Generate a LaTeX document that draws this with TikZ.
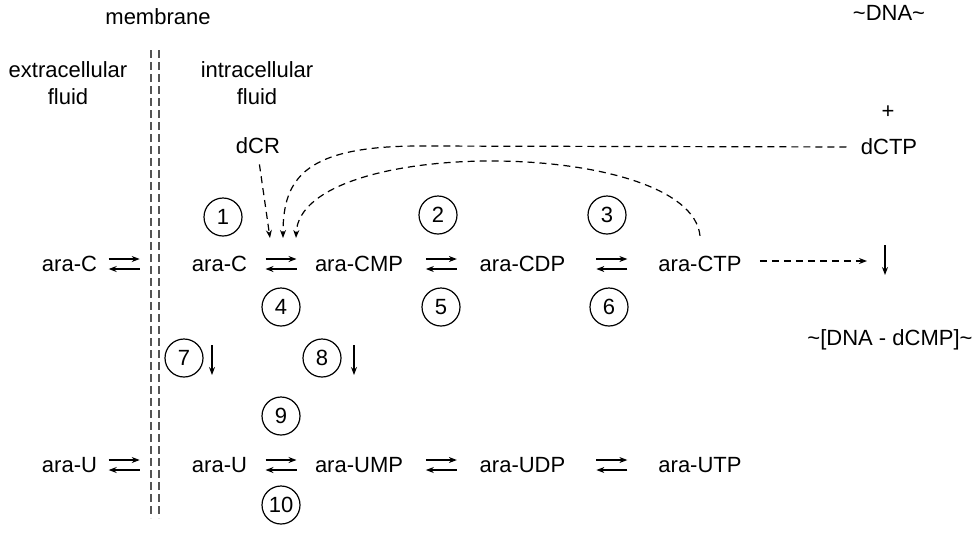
\documentclass[tikz,border=0pt]{standalone}
\usepackage{fontspec}
\setmainfont{Liberation Sans}
\usetikzlibrary{arrows.meta, calc}
\definecolor{memgray}{HTML}{555555}
\tikzset{species/.style = {inner sep=0pt}}
\tikzset{step circle/.style = {draw, circle, line width=0.6pt, minimum size=19pt, inner sep=0pt}}
\tikzset{thin arrow/.style = {-{Stealth[length=4pt, width=3pt]}, line width=0.6pt}}
\tikzset{dash line/.style = {dash pattern=on 3.5pt off 2.5pt, line width=0.6pt}}
\newcommand{\eqpair}[2]{%
	\coordinate (eqmid) at ($#1!0.5!#2$);
	\draw[thin arrow] ($(eqmid)+(-15.5,-5)$) -- ++(31,0);
	\draw[thin arrow] ($(eqmid)+(15.5,5)$) -- ++(-31,0);
}

\begin{document}
\begin{tikzpicture}[x=0.5pt, y=-0.5pt, font=\fontsize{11}{13.5}\selectfont]
	\useasboundingbox (0,0) rectangle (978,532);
	\def\rowC{264}
	\def\rowU{465}
	
	% headings
	\node (membrane) at (158,17) {membrane};
	\node (dna) at (889,13) {\textasciitilde DNA\textasciitilde};
	\node[align=center] (extra) at (68,83.5) {extracellular\\fluid};
	\node[align=center] (intra) at (257,83.5) {intracellular\\fluid};
	
	% membrane
	\foreach \mx in {151,159}
		\draw[memgray, line width=0.6pt, dash pattern=on 4pt off 2pt] (\mx,50) -- (\mx,518);
	\coordinate (memC) at (151,\rowC);
	\coordinate (memU) at (151,\rowU);
	
	% cytidine row
	\node[species] (araCout) at (69.5,\rowC) {ara-C};
	\node[species] (araC) at (219.5,\rowC) {ara-C};
	\node[species] (araCMP) at (359,\rowC) {ara-CMP};
	\node[species] (araCDP) at (522.5,\rowC) {ara-CDP};
	\node[species] (araCTP) at (700,\rowC) {ara-CTP};
	\eqpair{(araCout.east)}{(memC)}
	\eqpair{(araC.east)}{(araCMP.west)}
	\eqpair{(araCMP.east)}{(araCDP.west)}
	\eqpair{(araCDP.east)}{(araCTP.west)}
	
	% uridine row
	\node[species] (araUout) at (69.5,\rowU) {ara-U};
	\node[species] (araU) at (219.5,\rowU) {ara-U};
	\node[species] (araUMP) at (359,\rowU) {ara-UMP};
	\node[species] (araUDP) at (522.5,\rowU) {ara-UDP};
	\node[species] (araUTP) at (700,\rowU) {ara-UTP};
	\eqpair{(araUout.east)}{(memU)}
	\eqpair{(araU.east)}{(araUMP.west)}
	\eqpair{(araUMP.east)}{(araUDP.west)}
	\eqpair{(araUDP.east)}{(araUTP.west)}
	
	% enzymes
	\node[step circle] (s1) at (223,217) {1};
	\node[step circle] (s2) at (438,215) {2};
	\node[step circle] (s3) at (607,215) {3};
	\node[step circle] (s4) at (281,307) {4};
	\node[step circle] (s5) at (441,307) {5};
	\node[step circle] (s6) at (609,307) {6};
	\node[step circle] (s7) at (184,358) {7};
	\node[step circle] (s8) at (322,358) {8};
	\node[step circle] (s9) at (281,416) {9};
	\node[step circle] (s10) at (281,505) {10};
	\draw[thin arrow] ($(s7)+(28,-13)$) -- ++(0,30);
	\draw[thin arrow] ($(s8)+(32,-13)$) -- ++(0,30);
	
	% feedback on deoxycytidine kinase
	\node[species] (dCR) at (258,146) {dCR};
	\node[species] (plus) at (888,112) {+};
	\node[species] (dCTP) at (889,147) {dCTP};
	\coordinate (tipA) at (270,238);
	\coordinate (tipB) at (283,238);
	\coordinate (tipC) at (296,238);
	\draw[dash line, thin arrow, shorten <=5pt] (dCR.south) -- (tipA);
	\draw[dash line, thin arrow, shorten <=7pt] (dCTP.west) -- (420,146) .. controls (305,146) and (283,178) .. (tipB);
	\draw[dash line, thin arrow] ([yshift=10pt]araCTP.north) .. controls (690,138) and (300,135) .. (tipC);
	
	% incorporation into DNA
	\coordinate (incTop) at (885,245);
	\draw[dash line, thin arrow, shorten <=9pt] ($(araCTP.east)+(0,-3)$) -- ($(incTop)+(-18,16)$);
	\draw[thin arrow] (incTop) -- ++(0,30);
	\node (dnaCMP) at (890,340) {\textasciitilde[DNA - dCMP]\textasciitilde};
\end{tikzpicture}
\end{document}
